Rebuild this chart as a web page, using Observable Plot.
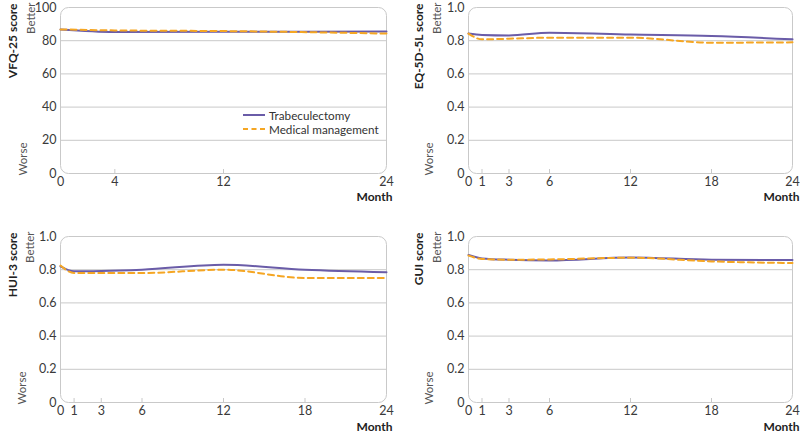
<!DOCTYPE html>
<html>
<head>
<meta charset="utf-8">
<script src="https://cdn.jsdelivr.net/npm/d3@7"></script>
<script src="https://cdn.jsdelivr.net/npm/@observablehq/plot@0.6"></script>
<style>
  html, body { margin: 0; padding: 0; background: #fff; }
  body { width: 800px; height: 437px; position: relative; overflow: hidden; font-family: Lato, "Noto Sans", sans-serif; }
  .panel { position: absolute; }
  .legend { position: absolute; left: 243px; top: 108px; font-size: 11.7px; color: #333; line-height: 14px; }
  .legend .row { display: flex; align-items: center; height: 14px; }
  .legend svg { margin-right: 4px; }
</style>
</head>
<body>
<div id="p1" class="panel" style="left:0;top:0"></div>
<div id="p2" class="panel" style="left:400px;top:0"></div>
<div id="p3" class="panel" style="left:0;top:217px"></div>
<div id="p4" class="panel" style="left:400px;top:217px"></div>
<div class="legend" id="legend"></div>
<script>
// ---------- data ----------
const seriesNames = ["Trabeculectomy", "Medical management"];
const seriesColors = ["#6a5ca8", "#f5a623"];

const monthsVFQ = [0, 4, 12, 24];
const vfqTrab = [86.8, 85.3, 85.4, 85.5];
const vfqMed  = [86.8, 86.2, 85.8, 84.3];

const months = [0, 1, 3, 6, 12, 18, 24];
const eqTrab  = [0.843, 0.835, 0.832, 0.848, 0.837, 0.828, 0.808];
const eqMed   = [0.843, 0.808, 0.812, 0.818, 0.818, 0.788, 0.790];
const huiTrab = [0.820, 0.790, 0.792, 0.800, 0.830, 0.800, 0.785];
const huiMed  = [0.825, 0.780, 0.780, 0.780, 0.800, 0.750, 0.750];
const guiTrab = [0.889, 0.868, 0.860, 0.856, 0.874, 0.860, 0.858];
const guiMed  = [0.885, 0.865, 0.860, 0.862, 0.872, 0.850, 0.840];

const yTicksVFQ = [0, 20, 40, 60, 80, 100];
const yTicksUtil = [0, 0.2, 0.4, 0.6, 0.8, 1.0];
const yTickLabelsUtil = ["0", "0.2", "0.4", "0.6", "0.8", "1.0"];

const panelTitles = ["VFQ-25 score", "EQ-5D-5L score", "HUI-3 score", "GUI score"];
const betterLabel = "Better", worseLabel = "Worse", xLabel = "Month";

// ---------- drawing ----------
const FONT = "Lato, 'Noto Sans', sans-serif";
const GRID = "#c9c9c9";

function makeData(xs, a, b) {
  const rows = [];
  xs.forEach((m, i) => rows.push({month: m, value: a[i], series: seriesNames[0]}));
  xs.forEach((m, i) => rows.push({month: m, value: b[i], series: seriesNames[1]}));
  return rows;
}

function panel(el, opts) {
  const {xs, a, b, yTicks, yFmt, yMax, title, width, height, mL, mR, mT, mB, labelDx, betterDx, monthDx, monthDy} = opts;
  const data = makeData(xs, a, b);
  const plotH = height - mT - mB;
  const inner = yTicks.filter(t => t !== 0 && t !== yMax);
  const xInner = xs.filter(t => t !== 0 && t !== 24);
  const chart = Plot.plot({
    width, height,
    marginLeft: mL, marginRight: mR, marginTop: mT, marginBottom: mB,
    style: {fontFamily: FONT, fontSize: "12px", color: "#333", background: "white", overflow: "visible"},
    x: {domain: [0, 24], ticks: xs, label: null},
    y: {domain: [0, yMax], ticks: yTicks, label: null, tickFormat: yFmt},
    marks: [
      Plot.ruleY(inner, {stroke: GRID, strokeWidth: 1}),
      Plot.frame({stroke: GRID, strokeWidth: 1, rx: 8}),
      Plot.tickX(xInner, {x: d => d, stroke: GRID, insetTop: plotH - 4}),
      Plot.axisY({ticks: yTicks, tickSize: 0, tickPadding: 4, tickFormat: yFmt, fontSize: 12.5, fill: "#3a3a3a", label: null}),
      Plot.axisX({ticks: xs, tickSize: 0, tickPadding: 4, fontSize: 12.5, fill: "#3a3a3a", label: null}),
      Plot.line(data.filter(d => d.series === seriesNames[0]), {x: "month", y: "value", stroke: seriesColors[0], strokeWidth: 2, curve: "monotone-x"}),
      Plot.line(data.filter(d => d.series === seriesNames[1]), {x: "month", y: "value", stroke: seriesColors[1], strokeWidth: 2, strokeDasharray: "6,4", curve: "monotone-x"}),
      Plot.text([title], {frameAnchor: "top-left", text: d => d, rotate: -90, textAnchor: "end", dx: labelDx, dy: -4, fontWeight: "bold", fontSize: 12, fill: "#222"}),
      Plot.text([betterLabel], {frameAnchor: "top-left", text: d => d, rotate: -90, textAnchor: "end", dx: betterDx, dy: -5, fontSize: 11.5, fill: "#555"}),
      Plot.text([worseLabel], {frameAnchor: "bottom-left", text: d => d, rotate: -90, textAnchor: "start", dx: betterDx, dy: 2, fontSize: 11.5, fill: "#555"}),
      Plot.text([xLabel], {frameAnchor: "bottom-right", text: d => d, textAnchor: "end", dx: monthDx, dy: monthDy, fontWeight: "bold", fontSize: 12, fill: "#222"})
    ]
  });
  document.getElementById(el).appendChild(chart);
}

const fmtVFQ = d => String(d);
const fmtUtil = d => yTickLabelsUtil[yTicksUtil.indexOf(d)];

panel("p1", {xs: monthsVFQ, a: vfqTrab, b: vfqMed, yTicks: yTicksVFQ, yFmt: fmtVFQ, yMax: 100, title: panelTitles[0],
  width: 400, height: 217, mL: 60, mR: 14, mT: 7, mB: 44, labelDx: -52, betterDx: -34, monthDx: 6, monthDy: 27});
panel("p2", {xs: months, a: eqTrab, b: eqMed, yTicks: yTicksUtil, yFmt: fmtUtil, yMax: 1, title: panelTitles[1],
  width: 400, height: 217, mL: 68, mR: 8, mT: 7, mB: 44, labelDx: -54, betterDx: -35.5, monthDx: 7, monthDy: 27});
panel("p3", {xs: months, a: huiTrab, b: huiMed, yTicks: yTicksUtil, yFmt: fmtUtil, yMax: 1, title: panelTitles[2],
  width: 400, height: 220, mL: 60, mR: 14, mT: 19, mB: 35, labelDx: -52.5, betterDx: -34.5, monthDx: 6, monthDy: 28});
panel("p4", {xs: months, a: guiTrab, b: guiMed, yTicks: yTicksUtil, yFmt: fmtUtil, yMax: 1, title: panelTitles[3],
  width: 400, height: 220, mL: 68, mR: 8, mT: 19, mB: 35, labelDx: -54, betterDx: -35.5, monthDx: 7, monthDy: 28});

// legend
const leg = document.getElementById("legend");
seriesNames.forEach((name, i) => {
  const row = document.createElement("div");
  row.className = "row";
  const dash = i === 1 ? ' stroke-dasharray="5,3.5"' : '';
  row.innerHTML = `<svg width="22" height="4"><line x1="0" x2="22" y1="2" y2="2" stroke="${seriesColors[i]}" stroke-width="2"${dash}/></svg><span>${name}</span>`;
  leg.appendChild(row);
});
</script>
</body>
</html>
